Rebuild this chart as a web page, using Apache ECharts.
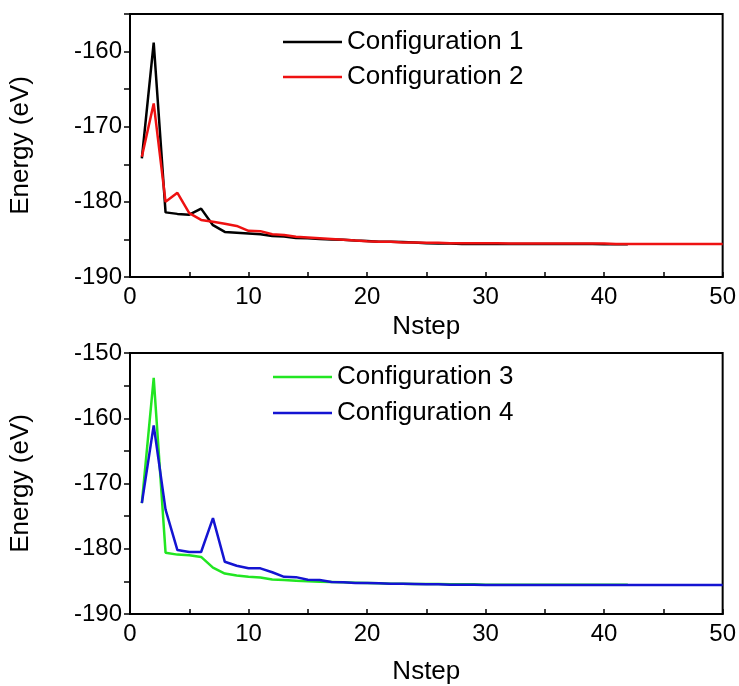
<!DOCTYPE html>
<html>
<head>
<meta charset="utf-8">
<script src="https://cdn.jsdelivr.net/npm/echarts@6/dist/echarts.min.js"></script>
<style>html,body{margin:0;padding:0;background:#fff;}#chart{width:739px;height:686px;}</style>
</head>
<body>
<div id="chart"></div>
<script>
// Data
const cfg1 = [-174.2,-158.8,-181.4,-181.6,-181.7,-180.9,-183.1,-184.0,-184.1,-184.2,
  -184.3,-184.55,-184.6,-184.8,-184.85,-184.95,-185.0,-185.05,-185.15,-185.2,
  -185.3,-185.3,-185.35,-185.4,-185.5,-185.55,-185.55,-185.6,-185.6,-185.6,
  -185.6,-185.6,-185.6,-185.6,-185.6,-185.6,-185.6,-185.6,-185.6,-185.65,-185.65,-185.65];
const cfg2 = [-174.0,-166.9,-180.0,-178.8,-181.5,-182.4,-182.65,-182.9,-183.2,-183.85,
  -183.9,-184.3,-184.4,-184.65,-184.75,-184.85,-184.95,-185.05,-185.15,-185.25,
  -185.3,-185.3,-185.4,-185.4,-185.45,-185.45,-185.5,-185.5,-185.5,-185.5,
  -185.5,-185.55,-185.55,-185.55,-185.55,-185.55,-185.55,-185.55,-185.55,-185.55,
  -185.6,-185.6,-185.6,-185.6,-185.6,-185.6,-185.6,-185.6,-185.6,-185.6];
const cfg3 = [-173.0,-153.8,-180.6,-180.9,-181.0,-181.25,-182.9,-183.8,-184.1,-184.3,
  -184.4,-184.7,-184.8,-184.9,-185.0,-185.05,-185.1,-185.15,-185.2,-185.25,
  -185.3,-185.35,-185.35,-185.4,-185.4,-185.4,-185.45,-185.45,-185.45,-185.5,
  -185.5,-185.5,-185.5,-185.5,-185.5,-185.5,-185.5,-185.5,-185.5,-185.5,-185.5,-185.5];
const cfg4 = [-173.0,-161.1,-174.0,-180.2,-180.5,-180.5,-175.3,-182.0,-182.6,-183.0,
  -183.0,-183.6,-184.3,-184.35,-184.75,-184.8,-185.1,-185.15,-185.25,-185.25,
  -185.3,-185.35,-185.35,-185.4,-185.45,-185.45,-185.5,-185.5,-185.5,-185.55,
  -185.55,-185.55,-185.55,-185.55,-185.55,-185.55,-185.55,-185.55,-185.55,-185.55,
  -185.55,-185.55,-185.55,-185.55,-185.55,-185.55,-185.55,-185.55,-185.55,-185.55];
const seriesNames = ['Configuration 1','Configuration 2','Configuration 3','Configuration 4'];
const xTitle = 'Nstep';
const yTitle = 'Energy (eV)';

const FONT = '"Liberation Sans", Arial, sans-serif';
function pairs(arr){ return arr.map((v,i)=>[i+1,v]); }

function xAxisDef(gi, gap){
  return {
    type:'value', gridIndex:gi, min:0, max:50, interval:5,
    name:xTitle, nameLocation:'middle', nameGap:gap,
    nameTextStyle:{fontFamily:FONT,fontSize:26,color:'#000'},
    axisLine:{lineStyle:{color:'#000',width:2}},
    axisTick:{inside:true,length:5,lineStyle:{color:'#000',width:1.5}},
    axisLabel:{fontFamily:FONT,fontSize:24,color:'#000',margin:8,
      formatter:v=> (v%10===0? String(v):'')},
    splitLine:{show:false}
  };
}
function yAxisDef(gi, max){
  return {
    type:'value', gridIndex:gi, min:-190, max:max, interval:5,
    name:yTitle, nameLocation:'middle', nameGap:96,
    nameTextStyle:{fontFamily:FONT,fontSize:26,color:'#000'},
    axisLine:{lineStyle:{color:'#000',width:2}},
    axisTick:{inside:false,length:6,lineStyle:{color:'#000',width:1.5}},
    axisLabel:{fontFamily:FONT,fontSize:24,color:'#000',margin:8,
      formatter:v=> (v%10===0? String(v):''), showMaxLabel:true},
    splitLine:{show:false}
  };
}
function lineSeries(name, data, color, xi){
  return {name:name,type:'line',xAxisIndex:xi,yAxisIndex:xi,data:pairs(data),
    symbol:'none',lineStyle:{color:color,width:2.5},itemStyle:{color:color},animation:false};
}

const chart = echarts.init(document.getElementById('chart'));
chart.setOption({
  backgroundColor:'#fff',
  animation:false,
  grid:[
    {left:130,top:14,width:593,height:263,show:true,borderColor:'#000',borderWidth:2,backgroundColor:'transparent'},
    {left:130,top:353,width:593,height:264,show:true,borderColor:'#000',borderWidth:2,backgroundColor:'transparent'}
  ],
  xAxis:[xAxisDef(0,37), xAxisDef(1,45)],
  yAxis:[yAxisDef(0,-155), yAxisDef(1,-150)],
  legend:[
    {data:[seriesNames[0],seriesNames[1]],orient:'vertical',left:283,top:29,padding:0,itemWidth:59,itemHeight:2.5,itemGap:9,
      icon:'rect',textStyle:{fontFamily:FONT,fontSize:26,color:'#000'}},
    {data:[seriesNames[2],seriesNames[3]],orient:'vertical',left:273,top:364,padding:0,itemWidth:59,itemHeight:2.5,itemGap:10,
      icon:'rect',textStyle:{fontFamily:FONT,fontSize:26,color:'#000'}}
  ],
  series:[
    lineSeries(seriesNames[0],cfg1,'#000000',0),
    lineSeries(seriesNames[1],cfg2,'#ee1111',0),
    lineSeries(seriesNames[2],cfg3,'#22e622',1),
    lineSeries(seriesNames[3],cfg4,'#1414d2',1)
  ]
});
</script>
</body>
</html>
